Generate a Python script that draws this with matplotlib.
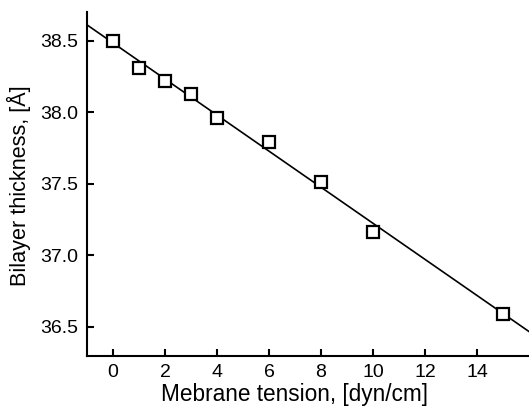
import numpy as np
import matplotlib.pyplot as plt

plt.rcParams['font.family'] = ['Liberation Sans', 'DejaVu Sans']

# measured points
tension = [0, 1, 2, 3, 4, 6, 8, 10, 15]
thickness = [38.50, 38.31, 38.22, 38.125, 37.96, 37.79, 37.51, 37.16, 36.59]

# linear fit
fit_intercept = 38.484
fit_slope = -0.126

x_ticks = [0, 2, 4, 6, 8, 10, 12, 14]
y_ticks = [36.5, 37.0, 37.5, 38.0, 38.5]

fig = plt.figure(figsize=(5.29, 4.07), dpi=100)
ax = fig.add_axes([0.1645, 0.1263, 0.8355, 0.8442])

xfit = np.array([-1, 16])
ax.plot(xfit, fit_intercept + fit_slope * xfit, color='black', lw=1.2, zorder=2)
ax.plot(tension, thickness, ls='none', marker='s', ms=8.5, mfc='white',
        mec='black', mew=1.6, zorder=3)

ax.set_xlim(-1, 16)
ax.set_ylim(36.3, 38.7)
ax.set_xticks(x_ticks)
ax.set_yticks(y_ticks)
ax.set_yticklabels([f"{v:.1f}" for v in y_ticks])

for s in ['top', 'right']:
    ax.spines[s].set_visible(False)
for s in ['left', 'bottom']:
    ax.spines[s].set_linewidth(1.5)

ax.tick_params(direction='in', length=5, width=1.5, labelsize=14, pad=6)

ax.set_xlabel("Mebrane tension, [dyn/cm]", fontsize=16.3)
ax.set_ylabel("Bilayer thickness, [Å]", fontsize=15.6)
ax.xaxis.set_label_coords(0.47, -0.08)
ax.yaxis.set_label_coords(-0.126, 0.494)

fig.savefig("out.png", dpi=100)
